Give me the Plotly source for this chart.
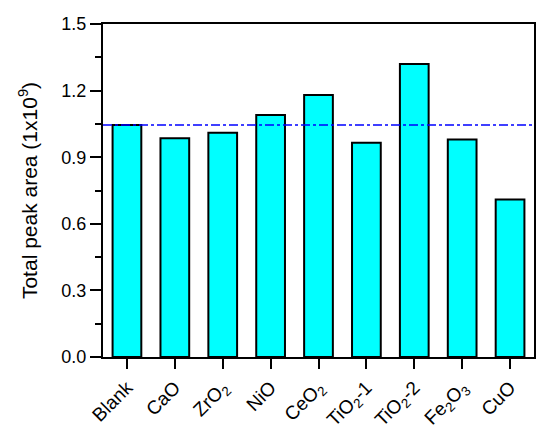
import plotly.graph_objects as go

categories = ["Blank", "CaO", "ZrO<sub>2</sub>", "NiO", "CeO<sub>2</sub>",
              "TiO<sub>2</sub>-1", "TiO<sub>2</sub>-2", "Fe<sub>2</sub>O<sub>3</sub>", "CuO"]
values = [1.045, 0.985, 1.01, 1.09, 1.18, 0.965, 1.32, 0.98, 0.71]
blank_level = 1.045
y_ticks = [0.0, 0.3, 0.6, 0.9, 1.2, 1.5]
y_ticklabels = ["0.0", "0.3", "0.6", "0.9", "1.2", "1.5"]
y_minor_ticks = [0.15, 0.45, 0.75, 1.05, 1.35]

fig = go.Figure()
fig.add_trace(go.Bar(
    x=list(range(len(categories))), y=values, width=0.6,
    marker=dict(color="#00FFFF", line=dict(color="black", width=2)),
    showlegend=False,
))
fig.add_shape(type="line", xref="paper", yref="y", x0=0, x1=1,
              y0=blank_level, y1=blank_level,
              line=dict(color="#0000FF", width=1.6, dash="dashdot"))

font = dict(family="Liberation Sans, Arial, sans-serif", size=17, color="black")
fig.update_layout(
    width=550, height=430,
    margin=dict(l=103, r=16, t=24, b=73, autoexpand=False),
    plot_bgcolor="white", paper_bgcolor="white",
    font=font,
)
fig.update_xaxes(
    range=[-0.5, 8.5], tickmode="array", automargin=False,
    tickvals=list(range(len(categories))), ticktext=categories,
    tickangle=-45, ticks="outside", ticklen=10, tickwidth=2, tickcolor="black",
    showline=True, linecolor="black", linewidth=2, mirror=True,
    showgrid=False, zeroline=False, tickfont=dict(size=19, color="black"),
)
fig.update_yaxes(
    range=[0, 1.5], tickmode="array", tickvals=y_ticks, ticktext=y_ticklabels,
    automargin=False,
    ticks="outside", ticklen=11, tickwidth=2, tickcolor="black",
    minor=dict(ticks="outside", tickvals=y_minor_ticks, ticklen=6, tickwidth=2, tickcolor="black"),
    showline=True, linecolor="black", linewidth=2, mirror=True,
    showgrid=False, zeroline=False, tickfont=dict(size=18, color="black"),
    title=dict(text="Total peak area (1x10<sup>9</sup>)", font=dict(size=21, color="black"), standoff=18),
)
fig.write_html("out.html", config={"displayModeBar": False},
               post_script="document.body.style.margin='0px';document.body.style.padding='0px';document.body.style.overflow='hidden';")
